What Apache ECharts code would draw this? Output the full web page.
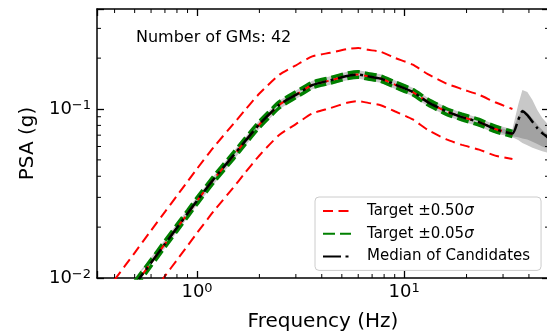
<!DOCTYPE html>
<html>
<head>
<meta charset="utf-8">
<script src="https://cdn.jsdelivr.net/npm/echarts@6/dist/echarts.min.js"></script>
<style>
html, body { margin: 0; padding: 0; background: #fff; }
#psa-chart { width: 547px; height: 336px; }
</style>
</head>
<body>
<div id="psa-chart"></div>
<script>
// frequencies (Hz) of the target spectrum
var freqs = [0.4, 0.5, 0.6, 0.7, 0.8, 0.9, 1.0, 1.2, 1.5, 1.7, 2.0, 2.5, 3.0, 3.6, 4.4, 5.3, 6.0, 6.7, 7.7, 9.0, 11, 13, 16, 19, 23, 27.5, 33.3];
var targetMedian = [0.0063, 0.0091, 0.0123, 0.0159, 0.0198, 0.0240, 0.0286, 0.0382, 0.053, 0.064, 0.081, 0.106, 0.1215, 0.1387, 0.1476, 0.157, 0.160, 0.156, 0.1515, 0.1395, 0.126, 0.110, 0.0966, 0.0897, 0.0835, 0.0762, 0.0711];
var targetUp50 = [0.00976, 0.0141, 0.0191, 0.0246, 0.0307, 0.0372, 0.0443, 0.0592, 0.0817, 0.0982, 0.1234, 0.1597, 0.1814, 0.2047, 0.2153, 0.2264, 0.2297, 0.2239, 0.2180, 0.2007, 0.1830, 0.1608, 0.1413, 0.1312, 0.1213, 0.1096, 0.1000];
var targetLo50 = [0.00407, 0.00588, 0.00794, 0.01027, 0.01278, 0.0155, 0.01847, 0.0247, 0.0344, 0.0417, 0.0531, 0.0704, 0.0814, 0.0940, 0.1012, 0.1089, 0.1115, 0.1087, 0.1053, 0.0970, 0.0868, 0.0752, 0.0661, 0.0613, 0.0575, 0.0530, 0.0506];
var targetUp05 = [0.00658, 0.00951, 0.01285, 0.01661, 0.02068, 0.02507, 0.02988, 0.03991, 0.05534, 0.0668, 0.08448, 0.11043, 0.12647, 0.1442, 0.15328, 0.16286, 0.16589, 0.16174, 0.15712, 0.14468, 0.13079, 0.11426, 0.10034, 0.09317, 0.08671, 0.07905, 0.07357];
var targetLo05 = [0.00603, 0.00871, 0.01177, 0.01522, 0.01895, 0.02297, 0.02738, 0.03657, 0.05076, 0.06131, 0.07766, 0.10175, 0.11672, 0.1334, 0.14213, 0.15135, 0.15432, 0.15047, 0.14608, 0.13451, 0.12139, 0.1059, 0.093, 0.08636, 0.08041, 0.07346, 0.06872];

// median of the selected ground motions
var candFreqs = [0.4, 0.5, 0.6, 0.7, 0.8, 0.9, 1.0, 1.2, 1.5, 1.7, 2.0, 2.5, 3.0, 3.6, 4.4, 5.3, 6.0, 6.7, 7.7, 9.0, 11, 13, 16, 19, 23, 27.5, 33.3, 35.5, 37.2, 39.3, 41.6, 43.9, 46.4, 50];
var candMedian = [0.0063, 0.0091, 0.0123, 0.0159, 0.0198, 0.0241, 0.0287, 0.0383, 0.0532, 0.0641, 0.0812, 0.1062, 0.1213, 0.1385, 0.1478, 0.1568, 0.1598, 0.1562, 0.1512, 0.1398, 0.1262, 0.1098, 0.0968, 0.0895, 0.0837, 0.0760, 0.0715, 0.086, 0.097, 0.092, 0.084, 0.077, 0.072, 0.067];

// spread of the candidates (outer = range, inner = middle band)
var bandFreqs = [0.5, 0.7, 1.0, 1.5, 2.0, 2.5, 3.0, 3.6, 4.4, 5.3, 6.0, 7.7, 9.0, 11, 13, 16, 19, 23, 27.5, 33.3, 35.5, 37.2, 39.3, 41.6, 43.9, 46.4, 50];
var bandHi = [0.00965, 0.01685, 0.0303, 0.0562, 0.0859, 0.1124, 0.1288, 0.1470, 0.1565, 0.1664, 0.1696, 0.1606, 0.1479, 0.1336, 0.1166, 0.1024, 0.0951, 0.0885, 0.0808, 0.0760, 0.106, 0.1295, 0.126, 0.113, 0.0986, 0.0885, 0.080];
var bandLo = [0.00858, 0.0150, 0.0270, 0.0500, 0.0764, 0.1000, 0.1146, 0.1308, 0.1392, 0.1481, 0.1509, 0.1429, 0.1316, 0.1189, 0.1038, 0.0911, 0.0846, 0.0788, 0.0719, 0.0680, 0.0655, 0.063, 0.061, 0.059, 0.0575, 0.0562, 0.0548];
var innerFreqs = [27.5, 33.3, 35.5, 37.2, 39.3, 41.6, 43.9, 46.4, 50];
var innerHi = [0.0785, 0.0740, 0.090, 0.100, 0.095, 0.088, 0.081, 0.075, 0.070];
var innerLo = [0.0740, 0.0690, 0.068, 0.067, 0.066, 0.064, 0.062, 0.060, 0.058];

var xMinorTicks = [0.4, 0.5, 0.6, 0.7, 0.8, 0.9, 2, 3, 4, 5, 6, 7, 8, 9, 20, 30, 40];
var yMinorTicks = [0.02, 0.03, 0.04, 0.05, 0.06, 0.07, 0.08, 0.09, 0.2, 0.3];

var FONT = '"DejaVu Sans", sans-serif';

function pairs(xs, ys) {
    var out = [];
    for (var i = 0; i < xs.length; i++) out.push([xs[i], ys[i]]);
    return out;
}

function powLabel(v) {
    var lg = Math.log10(v);
    var e = Math.round(lg);
    if (Math.abs(lg - e) > 1e-6) return '';
    return '{b|10}{s|' + (e < 0 ? '\u2212' + (-e) : e) + '}';
}

var tickRich = {
    b: { fontSize: 18, fontFamily: FONT, color: '#000', lineHeight: 20 },
    s: { fontSize: 13, fontFamily: FONT, color: '#000', lineHeight: 10, verticalAlign: 'top' }
};

function bandSeries(fx, lo, hi, color, z) {
    return {
        type: 'custom', silent: true, z: z,
        data: [[fx[0], lo[0]]],
        renderItem: function (params, api) {
            var pts = [];
            for (var i = 0; i < fx.length; i++) pts.push(api.coord([fx[i], hi[i]]));
            for (var j = fx.length - 1; j >= 0; j--) pts.push(api.coord([fx[j], lo[j]]));
            var cs = params.coordSys;
            return {
                type: 'polygon',
                shape: { points: echarts.graphic.clipPointsByRect(pts, { x: cs.x, y: cs.y, width: cs.width, height: cs.height }) },
                style: { fill: color }
            };
        }
    };
}

function lineSeries(name, xs, ys, color, width, dash, z) {
    return {
        name: name, type: 'line', data: pairs(xs, ys),
        showSymbol: false, symbol: 'none', smooth: 0.2, z: z,
        lineStyle: { color: color, width: width, type: dash },
        itemStyle: { color: color }
    };
}

var psaChart = echarts.init(document.getElementById('psa-chart'));

var psaOption = {
    animation: false,
    backgroundColor: '#fff',
    grid: { left: 97, top: 9, width: 452, height: 269, outerBoundsMode: 'none' },
    xAxis: [
        {
            type: 'log', min: 0.329, max: 50,
            name: 'Frequency (Hz)', nameLocation: 'middle', nameGap: 34,
            nameTextStyle: { fontSize: 20, fontFamily: FONT, color: '#000' },
            axisLine: { lineStyle: { color: '#000', width: 1.5 } },
            axisTick: { inside: true, length: 7, lineStyle: { color: '#000', width: 1.3 } },
            axisLabel: { margin: 4, formatter: powLabel, rich: tickRich },
            splitLine: { show: false }
        },
        {
            type: 'log', min: 0.329, max: 50, position: 'top',
            axisLine: { lineStyle: { color: '#000', width: 1.5 } },
            axisTick: { inside: true, length: 7, lineStyle: { color: '#000', width: 1.3 } },
            axisLabel: { show: false },
            splitLine: { show: false }
        }
    ],
    yAxis: [
        {
            type: 'log', min: 0.01, max: 0.3906,
            name: 'PSA (g)', nameLocation: 'middle', nameGap: 59,
            nameTextStyle: { fontSize: 20, fontFamily: FONT, color: '#000' },
            axisLine: { lineStyle: { color: '#000', width: 1.5 } },
            axisTick: { inside: true, length: 7, lineStyle: { color: '#000', width: 1.3 } },
            axisLabel: { margin: 6, formatter: powLabel, rich: tickRich },
            splitLine: { show: false }
        },
        {
            type: 'log', min: 0.01, max: 0.3906, position: 'right',
            axisLine: { lineStyle: { color: '#000', width: 1.5 } },
            axisTick: { inside: true, length: 7, lineStyle: { color: '#000', width: 1.3 } },
            axisLabel: { show: false },
            splitLine: { show: false }
        }
    ],
    legend: {
        data: ['Target \u00b10.50\u03c3', 'Target \u00b10.05\u03c3', 'Median of Candidates'],
        orient: 'vertical', left: 315, top: 197,
        itemWidth: 28, itemHeight: 14, itemGap: 6.7,
        padding: [6, 11, 6, 7],
        backgroundColor: 'rgba(255,255,255,0.8)',
        borderColor: '#cccccc', borderWidth: 1, borderRadius: 4,
        itemStyle: { color: 'rgba(0,0,0,0)', borderWidth: 0, opacity: 0 },
        formatter: function (name) { return name.replace('\u03c3', '{i|\u03c3}'); },
        textStyle: {
            fontFamily: FONT, fontSize: 15, color: '#000', lineHeight: 16, padding: [0, 0, 0, 11],
            rich: { i: { fontFamily: FONT, fontSize: 15, fontStyle: 'italic', color: '#000' } }
        }
    },
    graphic: [
        { type: 'text', x: 136, y: 38, style: { text: 'Number of GMs: 42', font: '16px "DejaVu Sans"', fill: '#000', verticalAlign: 'middle' } }
    ],
    series: [
        bandSeries(bandFreqs, bandLo, bandHi, '#c8c8c8', 1),
        bandSeries(innerFreqs, innerLo, innerHi, '#a2a2a2', 1),
        lineSeries('Target \u00b10.05\u03c3', freqs, targetUp05, '#008000', 3.5, [12, 5], 2),
        lineSeries('Target \u00b10.05\u03c3', freqs, targetLo05, '#008000', 3.5, [12, 5], 2),
        lineSeries('Target \u00b10.50\u03c3', freqs, targetUp50, '#ff0000', 2, [10, 5.5], 3),
        lineSeries('Target \u00b10.50\u03c3', freqs, targetLo50, '#ff0000', 2, [10, 5.5], 3),
        lineSeries('Target', freqs, targetMedian, '#ff0000', 2, [10, 5.5], 3),
        lineSeries('Median of Candidates', candFreqs, candMedian, '#000000', 2.5, [18, 4.5, 3, 4.5], 4),
        {
            type: 'custom', silent: true, z: 5,
            data: xMinorTicks.map(function (v) { return [v, 0.1]; }),
            renderItem: function (params, api) {
                var cs = params.coordSys;
                var x = api.coord([api.value(0), 0.1])[0];
                var yb = cs.y + cs.height, yt = cs.y;
                return { type: 'group', children: [
                    { type: 'line', shape: { x1: x, y1: yb, x2: x, y2: yb - 4 }, style: { stroke: '#000', lineWidth: 1 } },
                    { type: 'line', shape: { x1: x, y1: yt, x2: x, y2: yt + 4 }, style: { stroke: '#000', lineWidth: 1 } }
                ] };
            }
        },
        {
            type: 'custom', silent: true, z: 5,
            data: yMinorTicks.map(function (v) { return [1, v]; }),
            renderItem: function (params, api) {
                var cs = params.coordSys;
                var y = api.coord([1, api.value(1)])[1];
                var xl = cs.x, xr = cs.x + cs.width;
                return { type: 'group', children: [
                    { type: 'line', shape: { x1: xl, y1: y, x2: xl + 4, y2: y }, style: { stroke: '#000', lineWidth: 1 } },
                    { type: 'line', shape: { x1: xr, y1: y, x2: xr - 4, y2: y }, style: { stroke: '#000', lineWidth: 1 } }
                ] };
            }
        }
    ]
};

psaChart.setOption(psaOption);
</script>
</body>
</html>
